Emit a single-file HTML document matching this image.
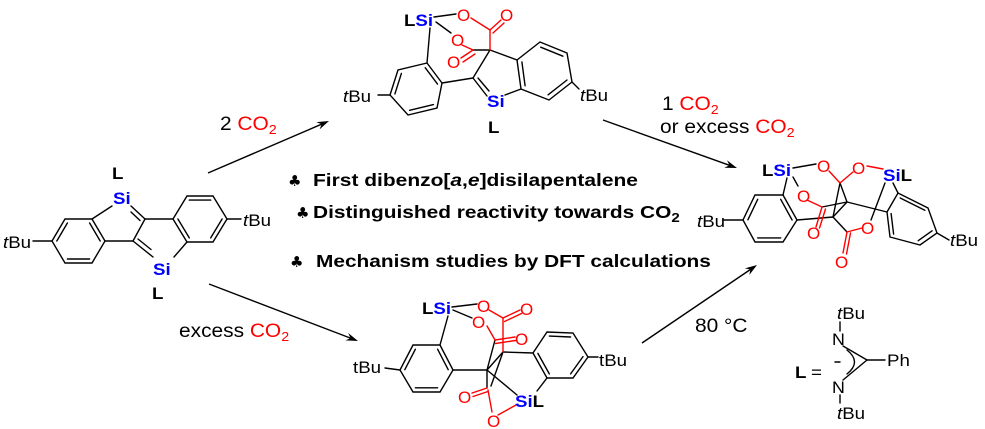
<!DOCTYPE html>
<html>
<head>
<meta charset="utf-8">
<style>
  html, body { margin: 0; padding: 0; background: #fff; }
  svg { display: block; }
  text { font-family: "Liberation Sans", Arial, sans-serif; }
  .a { font-size: 17px; }
  .c { font-size: 19px; }
  .bd { font-weight: bold; }
  .bu { font-size: 18px; font-weight: bold; }
  .cl { font-family: "DejaVu Sans", sans-serif; font-size: 15px; }
</style>
</head>
<body>
<svg width="985" height="429" viewBox="0 0 985 429" xmlns="http://www.w3.org/2000/svg">
<rect width="985" height="429" fill="#fff"/>

<!-- ================= LEFT MOLECULE ================= -->
<g stroke="#000" stroke-width="1.4" fill="none" stroke-linecap="round">
  <polygon points="65,219 92,219 105,241 92,263 65,263 52,241"/>
  <line x1="56.8" y1="241" x2="67.4" y2="223"/>
  <line x1="89.6" y1="223" x2="100.2" y2="241"/>
  <line x1="89.6" y1="259" x2="67.4" y2="259"/>
  <line x1="33" y1="241" x2="52" y2="241"/>
  <line x1="92" y1="219" x2="112" y2="206"/>
  <line x1="131" y1="206" x2="145" y2="219"/>
  <line x1="131" y1="212" x2="140" y2="220.5"/>
  <line x1="105" y1="241" x2="133" y2="241"/>
  <line x1="145" y1="219" x2="133" y2="241"/>
  <line x1="145" y1="219" x2="173" y2="219"/>
  <polygon points="173,219 187,196 213,196 227,219 213,242 187,242"/>
  <line x1="189.3" y1="200.1" x2="210.7" y2="200.1"/>
  <line x1="222.1" y1="219" x2="210.7" y2="237.9"/>
  <line x1="189.3" y1="237.9" x2="177.9" y2="219"/>
  <line x1="227" y1="219" x2="241" y2="219"/>
  <line x1="133" y1="241" x2="153" y2="257"/>
  <line x1="138" y1="239" x2="151" y2="249.5"/>
  <line x1="187" y1="242" x2="174" y2="257"/>
</g>
<text class="a" transform="translate(3,248) scale(1.1,1)"><tspan font-style="italic">t</tspan>Bu</text>
<text class="a" transform="translate(243,226) scale(1.1,1)"><tspan font-style="italic">t</tspan>Bu</text>
<text class="a bd" transform="translate(112,179) scale(1.1,1)">L</text>
<text class="a bd" fill="#0000ff" transform="translate(113,204) scale(1.1,1)">Si</text>
<text class="a bd" fill="#0000ff" transform="translate(153,275) scale(1.1,1)">Si</text>
<text class="a bd" transform="translate(152,299) scale(1.1,1)">L</text>

<!-- ================= TOP MIDDLE MOLECULE ================= -->
<g stroke="#000" stroke-width="1.4" fill="none" stroke-linecap="round">
  <line x1="434" y1="17" x2="456" y2="14"/>
  <line x1="436" y1="22" x2="451" y2="33"/>
  <line x1="473" y1="50" x2="490" y2="50"/>
  <line x1="430" y1="28" x2="427" y2="63"/>
  <polygon points="427,63 398,70 390,95 408,115 437,108 442,83"/>
  <line x1="401.4" y1="73.4" x2="394.9" y2="93.9"/>
  <line x1="409.6" y1="110.3" x2="433.4" y2="104.6"/>
  <line x1="437.5" y1="84.1" x2="425.2" y2="67.7"/>
  <line x1="378" y1="95" x2="390" y2="95"/>
  <line x1="442" y1="83" x2="473" y2="78"/>
  <line x1="473" y1="78" x2="487" y2="96"/>
  <line x1="478" y1="78" x2="489" y2="91"/>
  <line x1="473" y1="78" x2="490" y2="50"/>
  <line x1="490" y1="50" x2="517" y2="60"/>
  <line x1="505" y1="95" x2="521" y2="89"/>
  <polygon points="517,60 540,42 567,53 572,82 549,100 521,89"/>
  <line x1="540.7" y1="47.2" x2="562.9" y2="56.2"/>
  <line x1="567" y1="80" x2="548.1" y2="94.8"/>
  <line x1="525.1" y1="85.8" x2="521.9" y2="62"/>
  <line x1="572" y1="82" x2="579" y2="89"/>
</g>
<g stroke="#f00" stroke-width="1.4" fill="none" stroke-linecap="round">
  <line x1="471" y1="18" x2="490" y2="30"/>
  <line x1="490" y1="30" x2="501" y2="20"/>
  <line x1="493" y1="33" x2="504" y2="23"/>
  <line x1="490" y1="30" x2="490" y2="50"/>
  <line x1="462" y1="45" x2="473" y2="50"/>
  <line x1="473" y1="50" x2="461" y2="58"/>
  <line x1="475" y1="54" x2="463" y2="62"/>
</g>
<text class="a bd" transform="translate(404,26) scale(1.1,1)">L<tspan fill="#0000ff">Si</tspan></text>
<text class="a" fill="#f00" transform="translate(457,21)">O</text>
<text class="a" fill="#f00" transform="translate(500,21)">O</text>
<text class="a" fill="#f00" transform="translate(451,46)">O</text>
<text class="a" fill="#f00" transform="translate(447,68)">O</text>
<text class="a" transform="translate(343,102) scale(1.1,1)"><tspan font-style="italic">t</tspan>Bu</text>
<text class="a" transform="translate(580,101) scale(1.1,1)"><tspan font-style="italic">t</tspan>Bu</text>
<text class="a bd" fill="#0000ff" transform="translate(487,107) scale(1.1,1)">Si</text>
<text class="a bd" transform="translate(488,133) scale(1.1,1)">L</text>

<!-- ================= RIGHT MOLECULE ================= -->
<g stroke="#000" stroke-width="1.4" fill="none" stroke-linecap="round">
  <line x1="793" y1="168" x2="816" y2="164"/>
  <line x1="793" y1="177" x2="798" y2="186"/>
  <line x1="787" y1="178" x2="783" y2="195"/>
  <polygon points="755,195 783,195 797,220 783,242 755,242 743,220"/>
  <line x1="747.9" y1="219.8" x2="757.7" y2="199.3"/>
  <line x1="780.7" y1="199.3" x2="792.1" y2="220"/>
  <line x1="780.7" y1="237.9" x2="757.7" y2="237.9"/>
  <line x1="723" y1="220" x2="743" y2="220"/>
  <line x1="840" y1="183" x2="833" y2="217"/>
  <line x1="840" y1="183" x2="847" y2="202"/>
  <line x1="847" y1="202" x2="833" y2="217"/>
  <line x1="822" y1="207" x2="847" y2="202"/>
  <line x1="833" y1="217" x2="847" y2="232"/>
  <line x1="797" y1="220" x2="833" y2="217"/>
  <line x1="847" y1="202" x2="887" y2="212"/>
  <line x1="893" y1="183" x2="898" y2="193"/>
  <line x1="885" y1="183" x2="871" y2="220"/>
  <polygon points="887,212 898,193 928,208 937,233 920,245 890,237"/>
  <line x1="900.2" y1="198" x2="924.8" y2="210.3"/>
  <line x1="932.1" y1="230.8" x2="918.2" y2="240.7"/>
  <line x1="893.6" y1="234.1" x2="891.1" y2="213.6"/>
  <line x1="937" y1="233" x2="949" y2="240"/>
</g>
<g stroke="#f00" stroke-width="1.4" fill="none" stroke-linecap="round">
  <line x1="829" y1="171" x2="840" y2="183"/>
  <line x1="853" y1="172" x2="840" y2="183"/>
  <line x1="867" y1="166" x2="883" y2="169"/>
  <line x1="807" y1="200" x2="822" y2="207"/>
  <line x1="822" y1="207" x2="816" y2="227"/>
  <line x1="825.5" y1="209" x2="819.5" y2="228"/>
  <line x1="847" y1="232" x2="862" y2="228"/>
  <line x1="847" y1="232" x2="843" y2="253"/>
  <line x1="850.5" y1="233" x2="846.5" y2="254"/>
</g>
<text class="a bd" transform="translate(762,176) scale(1.1,1)">L<tspan fill="#0000ff">Si</tspan></text>
<text class="a" fill="#f00" transform="translate(817,172)">O</text>
<text class="a" fill="#f00" transform="translate(852,174)">O</text>
<text class="a bd" transform="translate(883,181) scale(1.1,1)"><tspan fill="#0000ff">Si</tspan>L</text>
<text class="a" fill="#f00" transform="translate(797,202)">O</text>
<text class="a" fill="#f00" transform="translate(861,234)">O</text>
<text class="a" fill="#f00" transform="translate(807,239)">O</text>
<text class="a" fill="#f00" transform="translate(835,268)">O</text>
<text class="a" transform="translate(697,227) scale(1.1,1)"><tspan font-style="italic">t</tspan>Bu</text>
<text class="a" transform="translate(950,246) scale(1.1,1)"><tspan font-style="italic">t</tspan>Bu</text>

<!-- ================= BOTTOM MOLECULE ================= -->
<g stroke="#000" stroke-width="1.4" fill="none" stroke-linecap="round">
  <line x1="452" y1="307" x2="477" y2="304"/>
  <line x1="453" y1="310" x2="472" y2="318"/>
  <line x1="448" y1="316" x2="440" y2="345"/>
  <polygon points="413,345 440,345 453,370 440,392 413,392 400,370"/>
  <line x1="404.8" y1="369.7" x2="415.4" y2="349.2"/>
  <line x1="437.6" y1="349.2" x2="448.2" y2="369.7"/>
  <line x1="437.6" y1="387.8" x2="415.4" y2="387.8"/>
  <line x1="385" y1="368" x2="400" y2="370"/>
  <line x1="453" y1="370" x2="487" y2="370"/>
  <line x1="503" y1="352" x2="487" y2="370"/>
  <line x1="503" y1="352" x2="533" y2="353"/>
  <line x1="495" y1="340" x2="487" y2="370"/>
  <line x1="487" y1="370" x2="517" y2="395"/>
  <line x1="487" y1="370" x2="487" y2="388"/>
  <line x1="503" y1="352" x2="491" y2="386"/>
  <polygon points="533,353 547,332 573,333 588,357 573,378 547,378"/>
  <line x1="549.4" y1="336.1" x2="570.6" y2="337"/>
  <line x1="583" y1="356.6" x2="570.6" y2="373.9"/>
  <line x1="549.3" y1="373.9" x2="537.9" y2="353.4"/>
  <line x1="588" y1="357" x2="598" y2="357"/>
  <line x1="537" y1="391" x2="547" y2="378"/>
</g>
<g stroke="#f00" stroke-width="1.4" fill="none" stroke-linecap="round">
  <line x1="489" y1="310" x2="503" y2="318"/>
  <line x1="503" y1="318" x2="520" y2="310"/>
  <line x1="504.5" y1="321.5" x2="521.5" y2="313.5"/>
  <line x1="503" y1="318" x2="503" y2="352"/>
  <line x1="487" y1="326" x2="495" y2="340"/>
  <line x1="495" y1="340" x2="515" y2="337"/>
  <line x1="495.5" y1="343.5" x2="515.5" y2="340.5"/>
  <line x1="487" y1="388" x2="472" y2="393"/>
  <line x1="488" y1="391.5" x2="473" y2="396.5"/>
  <line x1="488" y1="390" x2="492" y2="412"/>
  <line x1="498" y1="415" x2="516" y2="405"/>
</g>
<text class="a bd" transform="translate(422,314) scale(1.1,1)">L<tspan fill="#0000ff">Si</tspan></text>
<text class="a" fill="#f00" transform="translate(477,312)">O</text>
<text class="a" fill="#f00" transform="translate(520,315)">O</text>
<text class="a" fill="#f00" transform="translate(472,328)">O</text>
<text class="a" fill="#f00" transform="translate(515,345)">O</text>
<text class="a" fill="#f00" transform="translate(458,403)">O</text>
<text class="a" fill="#f00" transform="translate(487,427)">O</text>
<text class="a bd" transform="translate(515,407) scale(1.1,1)"><tspan fill="#0000ff">Si</tspan>L</text>
<text class="a" transform="translate(353,373) scale(1.1,1)">tBu</text>
<text class="a" transform="translate(599,366) scale(1.1,1)">tBu</text>

<!-- ================= LIGAND L ================= -->
<g stroke="#000" stroke-width="1.4" fill="none" stroke-linecap="round">
  <line x1="840" y1="322" x2="840" y2="331"/>
  <line x1="843" y1="346" x2="867" y2="360"/>
  <line x1="867" y1="360" x2="843" y2="380"/>
  <line x1="867" y1="360" x2="885" y2="360"/>
  <line x1="840" y1="395" x2="840" y2="403"/>
  <path d="M847,350 Q862,362 847,374"/>
  <line x1="835" y1="362" x2="840" y2="362"/>
</g>
<text class="a" transform="translate(837,319) scale(1.1,1)"><tspan font-style="italic">t</tspan>Bu</text>
<text class="a" transform="translate(832,345) scale(1.05,1)">N</text>
<text class="a bd" transform="translate(795,378) scale(1.1,1)">L</text>
<text class="a" transform="translate(811,378) scale(1.1,1)">=</text>
<text class="a" transform="translate(887,366) scale(1.1,1)">Ph</text>
<text class="a" transform="translate(832,393) scale(1.05,1)">N</text>
<text class="a" transform="translate(837,419) scale(1.1,1)"><tspan font-style="italic">t</tspan>Bu</text>

<!-- ================= ARROWS ================= -->
<g stroke="#000" stroke-width="1.4" fill="none">
  <line x1="208" y1="173" x2="321.6" y2="124.2"/>
  <line x1="603" y1="120" x2="729.5" y2="165.3"/>
  <line x1="209" y1="284" x2="350.5" y2="338.1"/>
  <line x1="642" y1="343" x2="750.4" y2="269.5"/>
</g>
<g fill="#000" stroke="none">
  <polygon points="329,121 319.6,129.4 321.6,124.2 316.4,122.1"/>
  <polygon points="737,168 724.3,167.8 729.5,165.3 727.0,160.2"/>
  <polygon points="358,341 345.4,340.4 350.5,338.1 348.2,333.0"/>
  <polygon points="757,265 749.3,275.0 750.4,269.5 744.9,268.4"/>
</g>

<!-- ================= CONDITIONS ================= -->
<text class="c" transform="translate(220,130) scale(1.1,1)">2 <tspan fill="#f00">CO<tspan font-size="13" dy="4">2</tspan></tspan></text>
<text class="c" transform="translate(662,110) scale(1.1,1)">1 <tspan fill="#f00">CO<tspan font-size="13" dy="4">2</tspan></tspan></text>
<text class="c" transform="translate(660,133) scale(1.1,1)">or excess <tspan fill="#f00">CO<tspan font-size="13" dy="4">2</tspan></tspan></text>
<text class="c" transform="translate(179,337) scale(1.1,1)">excess <tspan fill="#f00">CO<tspan font-size="13" dy="4">2</tspan></tspan></text>
<text class="c" transform="translate(695,332) scale(1.1,1)">80 °C</text>

<!-- ================= BULLETS ================= -->
<text class="cl" x="288" y="186">♣</text>
<text class="bu" transform="translate(313,186) scale(1.165,1)">First dibenzo[<tspan font-style="italic">a</tspan>,<tspan font-style="italic">e</tspan>]disilapentalene</text>
<text class="cl" x="296" y="218">♣</text>
<text class="bu" transform="translate(313,218) scale(1.16,1)">Distinguished reactivity towards CO<tspan font-size="13" dy="4">2</tspan></text>
<text class="cl" x="290" y="267">♣</text>
<text class="bu" transform="translate(316,267) scale(1.158,1)">Mechanism studies by DFT calculations</text>
</svg>
</body>
</html>
